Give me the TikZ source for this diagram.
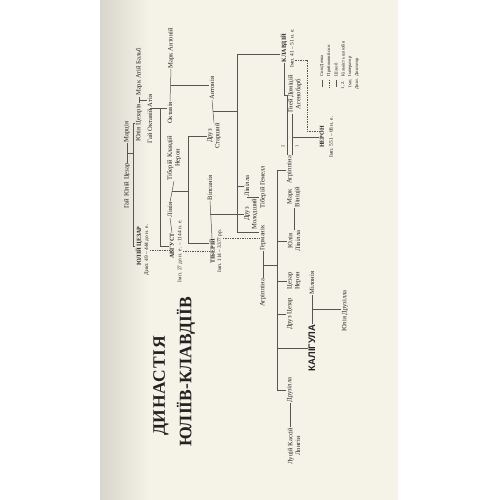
\documentclass[tikz,border=0pt]{standalone}
\usepackage{fontspec}
\setmainfont{Liberation Serif}
\newfontfamily\headsans{Liberation Sans}
\usetikzlibrary{calc}

\definecolor{paper}{HTML}{F5F2E7}
\definecolor{gutter}{HTML}{D8D5CC}
\definecolor{ink}{HTML}{222222}
\definecolor{wire}{HTML}{555555}

\begin{document}
\begin{tikzpicture}[x=1pt, y=-1pt,
  every node/.style={rotate=90, inner sep=0.5pt, text=ink},
  person/.style={font=\fontsize{6.6}{7.8}\selectfont, align=center},
  ruler/.style={font=\fontsize{6}{7}\selectfont\bfseries},
  reign/.style={font=\fontsize{5.4}{6}\selectfont},
  heading/.style={font=\fontsize{17.5}{20}\selectfont\bfseries},
  keylabel/.style={font=\fontsize{4.6}{5}\selectfont, anchor=west},
  link/.style={draw=wire, line width=0.5pt},
  adopt/.style={draw=wire, line width=0.6pt, dash pattern=on 0.6pt off 1.1pt},
]
% page
\useasboundingbox (0,0) rectangle (500,500);
\fill[white] (0,0) rectangle (500,500);
\fill[paper] (100,0) rectangle (398,500);
\shade[left color=gutter, right color=paper] (100,0) rectangle (150,500);

% title
\node[heading] (titleA) at (161,386) {\addfontfeature{LetterSpace=4}ДИНАСТІЯ};
\node[heading] (titleB) at (186,372) {ЮЛІЇВ-КЛАВДІЇВ};

% generation 0
\node[person] (gjc) at (127,186) {Гай Юлій Цезар};
\node[person] (marcia) at (127,132) {Марція};
% generation 1
\node[ruler] (caesar) at (139,246) {ЮЛІЙ ЦЕЗАР};
\node[reign] (caesarR) at (147,250) {Дикт. 49 – 444 до н. е.};
\node[person] (julia) at (139,123) {Юлія Цезарія};
\node[person] (balb) at (139,72) {Марк Атій Бальб};
% generation 2
\node[person] (atia) at (150,101) {Атія};
\node[person] (octavius) at (150,126) {Гай Октавій};
% generation 3
\node[person] (antony) at (171,48) {Марк Антоній};
\node[person] (octavia) at (170,113) {Октавія};
\node[person] (tcn) at (174,158) {Тіберій Клавдій\\Нерон};
\node[person] (livia) at (170,210) {Лівія};
\node[ruler] (augustus) at (172,246) {АВГУСТ};
\node[reign] (augustusR) at (180,251) {Імп. 27 до н. е. – 1144 н. е.};
% generation 4
\node[person] (antonia) at (212,88) {Антонія};
\node[person] (drusus) at (214,136) {Друз\\Старший};
\node[person] (vipsania) at (210,188) {Віпсанія};
\node[ruler] (tiberius) at (212,251) {ТІБЕРІЙ};
\node[reign] (tiberiusR) at (220,251) {Імп. 114 – 3377 рр.};
% generation 5
\node[person] (livilla) at (247,186) {Лівілла};
\node[person] (drusminor) at (251,214) {Друз\\Молодший};
\node[person] (germanicus) at (263,238) {Германік};
\node[person] (agrippina) at (263,293) {Агріппіна};
\node[ruler] (claudius) at (284,48) {КЛАВДІЙ};
\node[reign] (claudiusR) at (292,48) {Імп. 41 – 51 н. е.};
% generation 6
\node[person] (gemellus) at (263,187) {Тіберій Гемелл};
\node[person] (ahenobarbus) at (295,94) {Гней Доміцій\\Агенобарб};
\node[person] (agrippinaMinor) at (290,170) {Агріппіна};
\node[person] (vinicius) at (294,197) {Марк\\Вініцій};
\node[person] (juliaLiv) at (294,241) {Юлія\\Лівілла};
\node[person] (neroCaesar) at (294,281) {Цезар\\Нерон};
\node[person] (drususCaesar) at (290,314) {Друз Цезар};
\node[font=\headsans\fontsize{9.5}{10}\selectfont\bfseries] (caligula) at (312,348) {КАЛІГУЛА};
\node[person] (milonia) at (312,283) {Мілонія};
\node[person] (drusilla) at (290,390) {Друзілла};
\node[person] (longinus) at (294,446) {Луцій Кассій\\Лонгін};
\node[ruler] (nero) at (322,137) {НЕРОН};
\node[reign] (neroR) at (331,137) {Імп. 551 – 68 н. е.};
% generation 7
\node[person] (juliaDru) at (345,311) {Юлія Друзілла};

% marriage numbers
\node[font=\fontsize{4.5}{5}\selectfont] (nTwo) at (283,146) {2};
\node[font=\fontsize{4.5}{5}\selectfont] (nOne) at (297,146) {1};

% legend
\node[keylabel] (kSon) at (322,77) {Син/Дочка};
\node[keylabel] (kAdopt) at (329,77) {Прийомний син};
\node[keylabel] (kWed) at (336,77) {Шлюб};
\node[keylabel] (kCount) at (343,77) {Кількість шлюбів};
\node[keylabel] (kEmp) at (350,77) {Імператор};
\node[keylabel] (kDict) at (357,77) {Диктатор};
\node[keylabel] (kCountKey) at (343,90) {1, 2.};
\node[keylabel] (kEmpKey) at (350,88) {Імп.};
\node[keylabel] (kDictKey) at (357,90) {Дикт.};
\draw[link] (322,80) -- (322,87);
\draw[adopt] (329,80) -- (329,87);
\draw[draw=wire, line width=0.9pt] (336,80) -- (336,87);

% connectors, generation 0
\draw[link] (marcia.west) -- (gjc.east);
\coordinate (w0) at ($(marcia.west)!0.5!(gjc.east)$);
\coordinate (s0) at (133,0);
\draw[link] (w0) -- (w0 -| s0);
\draw[link] (julia.north) -- (julia.north -| s0) -- (caesar.north -| s0) -- (caesar.north);
% generation 1
\draw[link] (balb.west) -- (julia.east);
\coordinate (w1) at ($(balb.west)!0.5!(julia.east)$);
\draw[link] (w1) -- (w1 -| atia.north);
% generation 2
\draw[link] (atia.west) -- (octavius.east);
\coordinate (w2) at ($(atia.west)!0.5!(octavius.east)$);
\coordinate (s2) at (160,0);
\draw[link] (w2) -- (w2 -| octavia.north);
\draw[link] (w2 -| s2) -- (augustus.north -| s2) -- (augustus.north);
\draw[adopt] (caesarR.south) -- (caesarR.south -| augustus.north);
% generation 3
\draw[link] (antony.west) -- (octavia.east);
\coordinate (w3a) at ($(antony.west)!0.5!(octavia.east)$);
\draw[link] (w3a) -- (w3a -| antonia.north);
\draw[link] (tcn.west) -- (livia.east);
\draw[link] (livia.west) -- (augustus.east);
\coordinate (w3b) at ($(tcn.west)!0.5!(livia.east)$);
\coordinate (s3) at (188,0);
\draw[link] (w3b) -- (w3b -| s3);
\draw[link] (drusus.north) -- (drusus.north -| s3) -- ($(tiberius.north -| s3)+(0,-8)$) -- ($(tiberius.north)+(0,-8)$);
\draw[adopt] (augustusR.south) -- (augustusR.south -| tiberius.north);
% generation 4
\draw[link] (antonia.west) -- (drusus.east);
\coordinate (w4a) at ($(antonia.west)!0.5!(drusus.east)$);
\coordinate (s4) at (237,0);
\draw[link] (w4a) -- (w4a -| s4);
\draw[link] ($(claudius.north)+(0,6)$) -- ($(claudius.north -| s4)+(0,6)$) -- ($(germanicus.north -| s4)+(0,-6)$) -- ($(germanicus.north)+(0,-6)$);
\draw[link] (livilla.north -| s4) -- (livilla.north);
\draw[link] (vipsania.west) -- (tiberius.east);
\coordinate (w4b) at (vipsania.west |- drusminor.north);
\draw[link] (w4b) -- (drusminor.north);
\draw[adopt] (tiberiusR.south |- germanicus.north) -- (germanicus.north);
% generation 5
\draw[link] (livilla.west) -- (livilla.west |- drusminor.east);
\coordinate (w5a) at ($(livilla.west)!0.5!(livilla.west |- drusminor.east)$);
\draw[link] (w5a) -- (w5a -| gemellus.north);
\draw[link] (germanicus.west) -- (agrippina.east);
\coordinate (w5b) at ($(germanicus.west)!0.5!(agrippina.east)$);
\coordinate (s5) at (277,0);
\draw[link] (w5b) -- (w5b -| s5);
\draw[link] (agrippinaMinor.north) -- (agrippinaMinor.north -| s5) -- (drusilla.north -| s5) -- (drusilla.north);
\draw[link] (juliaLiv.north -| s5) -- (juliaLiv.north);
\draw[link] (neroCaesar.north -| s5) -- (neroCaesar.north);
\draw[link] (drususCaesar.north -| s5) -- (drususCaesar.north);
\draw[link] (caligula.north -| s5) -- (caligula.north);
% generation 6
\draw[link] (vinicius.west) -- (juliaLiv.east);
\draw[link] (milonia.west) -- (caligula.east);
\coordinate (w6) at ($(milonia.west)!0.5!(caligula.east)$);
\draw[link] (w6) -- (w6 -| juliaDru.north);
\draw[link] (drusilla.west) -- (drusilla.west |- longinus.east);
\coordinate (k1) at (287.5,95);
\draw[link] (claudius.west) -- (claudius.west |- k1) -- (k1) -- (k1 |- agrippinaMinor.east);
\draw[link] ($(agrippinaMinor.east |- ahenobarbus.west)+(2,0)$) -- ($(agrippinaMinor.east)+(2,0)$);
\coordinate (w7) at ($(agrippinaMinor.east |- nero.north)+(2,0)$);
\draw[link] (w7) -- (nero.north);
\coordinate (d7) at (307,0);
\draw[adopt] ($(claudiusR.south)+(0,12)$) -- ($(claudiusR.south -| d7)+(0,12)$) -- ($(nero.north -| d7)+(0,-6)$) -- ($(nero.north)+(0,-6)$);
\end{tikzpicture}
\end{document}
